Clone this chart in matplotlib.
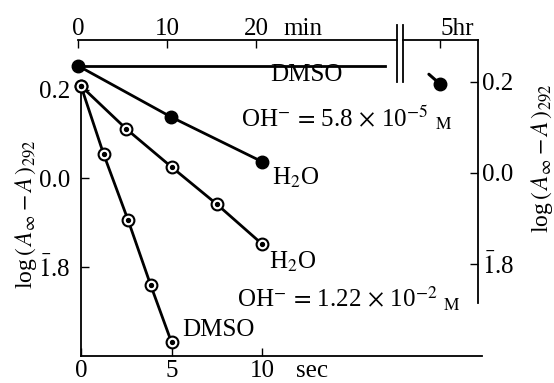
import numpy as np
import matplotlib.pyplot as plt

plt.rcParams['font.family'] = ['Liberation Serif', 'DejaVu Serif']
plt.rcParams['mathtext.fontset'] = 'stix'

# sec scale (bottom / left axis), OH- = 1.22e-2 M
h2o_sec_t = [0, 2.5, 5, 7.5, 10]
h2o_sec_y = [0.208, 0.111, 0.025, -0.059, -0.149]
dmso_sec_t = [0, 1.25, 2.6, 3.85, 5]
dmso_sec_y = [0.208, 0.054, -0.095, -0.242, -0.371]

# min scale (top / right axis), OH- = 5.8e-5 M
h2o_min_t = [0, 10.5, 20.7]
h2o_min_y = [0.235, 0.122, 0.024]
dmso_min_t = [0, 34.5]
dmso_min_y = [0.235, 0.235]
dmso_hr_t = [300]          # 5 hr in min
dmso_hr_y = [0.195]

yticks = [0.2, 0.0, -0.2]
yticklabels = ['0.2', '0.0', r'$\bar{1}$.8']
ylab = r'log$\,(\,A_{\infty}-A\,)_{292}$'
oh_low = r'OH$^{-}$$\,=\,$5.8$\,\times\,$10$^{-5}$ $_{\mathrm{M}}$'
oh_high = r'OH$^{-}$$\,=\,$1.22$\,\times\,$10$^{-2}$ $_{\mathrm{M}}$'

W, H = 554, 383
fig = plt.figure(figsize=(5.54, 3.83), dpi=100)

def rect(x0, x1, y0, y1):
    # pixel box -> figure fraction
    return [x0 / W, 1 - y1 / H, (x1 - x0) / W, (y1 - y0) / H]

fs = 18
lw = 2.0
top_px = 40

# ---- seconds axes
ax = fig.add_axes(rect(81, 482, top_px, 356))
ax.set_xlim(0, 22.15)
ax.set_ylim(-0.402, (178 - top_px) / 442.5)
ax.patch.set_visible(False)
for s in ['top', 'right']:
    ax.spines[s].set_visible(False)
ax.spines['left'].set_bounds(-0.402, 0.2)
ax.spines['left'].set_linewidth(1.3)
ax.spines['bottom'].set_linewidth(1.3)
ax.set_xticks([0, 5, 10])
ax.set_yticks(yticks)
ax.set_yticklabels(yticklabels)
ax.tick_params(direction='in', length=6, labelsize=fs, width=1)
ax.tick_params(axis='y', pad=8)
ax.tick_params(axis='x', pad=3)
ax.set_ylabel(ylab, fontsize=17)
ax.yaxis.set_label_coords(-0.105, 0.45)

for t, y in [(h2o_sec_t, h2o_sec_y), (dmso_sec_t, dmso_sec_y)]:
    ax.plot(t, y, color='black', lw=lw, marker='o', ms=8.5, mfc='white',
            mec='black', mew=1.5, clip_on=False, zorder=3)
    ax.plot(t, y, ls='none', marker='o', ms=2.8, color='black', clip_on=False, zorder=4)

ax.annotate('sec', xy=(11.9, 0), xycoords=('data', 'axes fraction'),
            xytext=(0, -3), textcoords='offset points', ha='left', va='top', fontsize=fs)

ax.text(10.4, -0.19, r'H$_2$O', fontsize=fs, ha='left', va='center')
ax.text(8.6, -0.273, oh_high, fontsize=fs, ha='left', va='center')
ax.text(5.6, -0.343, 'DMSO', fontsize=fs, ha='left', va='center')

# ---- minutes axes (before break)
yl2 = (-0.403, (172.7 - top_px) / 455)
axm = fig.add_axes(rect(78, 397, top_px, 356))
axm.set_xlim(0, (397 - 78) / 8.9)
axm.set_ylim(*yl2)
axm.patch.set_visible(False)
for s in ['left', 'bottom']:
    axm.spines[s].set_visible(False)
axm.spines['top'].set_linewidth(1.3)
axm.spines['right'].set_bounds(0.199, 0.325)
axm.spines['right'].set_linewidth(1.3)
axm.xaxis.tick_top()
axm.set_xticks([0, 10, 20])
axm.set_yticks([])
axm.tick_params(direction='in', length=6, labelsize=fs, pad=0, width=1)
axm.annotate('min', xy=(23.1, 1), xycoords=('data', 'axes fraction'),
             xytext=(0, 0), textcoords='offset points', ha='left', va='bottom', fontsize=fs)

axm.plot(dmso_min_t, dmso_min_y, color='black', lw=lw, zorder=3)
axm.plot(h2o_min_t, h2o_min_y, color='black', lw=lw, marker='o', ms=9,
         clip_on=False, zorder=3)
axm.text(21.6, 0.215, 'DMSO', fontsize=fs, ha='left', va='center')
axm.text(18.3, 0.12, oh_low, fontsize=fs, ha='left', va='center')
axm.text(21.8, -0.012, r'H$_2$O', fontsize=fs, ha='left', va='center')

# ---- hours part (after break)
axh = fig.add_axes(rect(403, 478, top_px, 356))
axh.set_xlim(300 - 37 / 8.9, 300 + 38 / 8.9)
axh.set_ylim(*yl2)
axh.patch.set_visible(False)
axh.spines['bottom'].set_visible(False)
axh.spines['left'].set_bounds(0.199, 0.325)
axh.spines['right'].set_bounds(-0.286, yl2[1])
for s in ['left', 'right', 'top']:
    axh.spines[s].set_linewidth(1.3)
axh.xaxis.tick_top()
axh.set_xticks([300])
axh.set_xticklabels(['5hr'])
for lab in axh.get_xticklabels():
    lab.set_horizontalalignment('left')
axh.yaxis.tick_right()
axh.set_yticks(yticks)
axh.set_yticklabels(yticklabels)
axh.tick_params(direction='in', length=6, labelsize=fs, pad=3, width=1)
axh.tick_params(axis='x', pad=0)
axh.yaxis.set_label_position('right')
axh.set_ylabel(ylab, fontsize=17)
axh.yaxis.set_label_coords(1.68, 0.626)

axh.plot(dmso_hr_t, dmso_hr_y, ls='none', marker='o', ms=9, color='black',
         clip_on=False, zorder=3)
axh.annotate('', xy=(dmso_hr_t[0], dmso_hr_y[0]), xytext=(-8, 7),
             textcoords='offset points',
             arrowprops=dict(arrowstyle='-', lw=2.2, color='black', shrinkA=0, shrinkB=0))

fig.savefig('out.png', dpi=100)
